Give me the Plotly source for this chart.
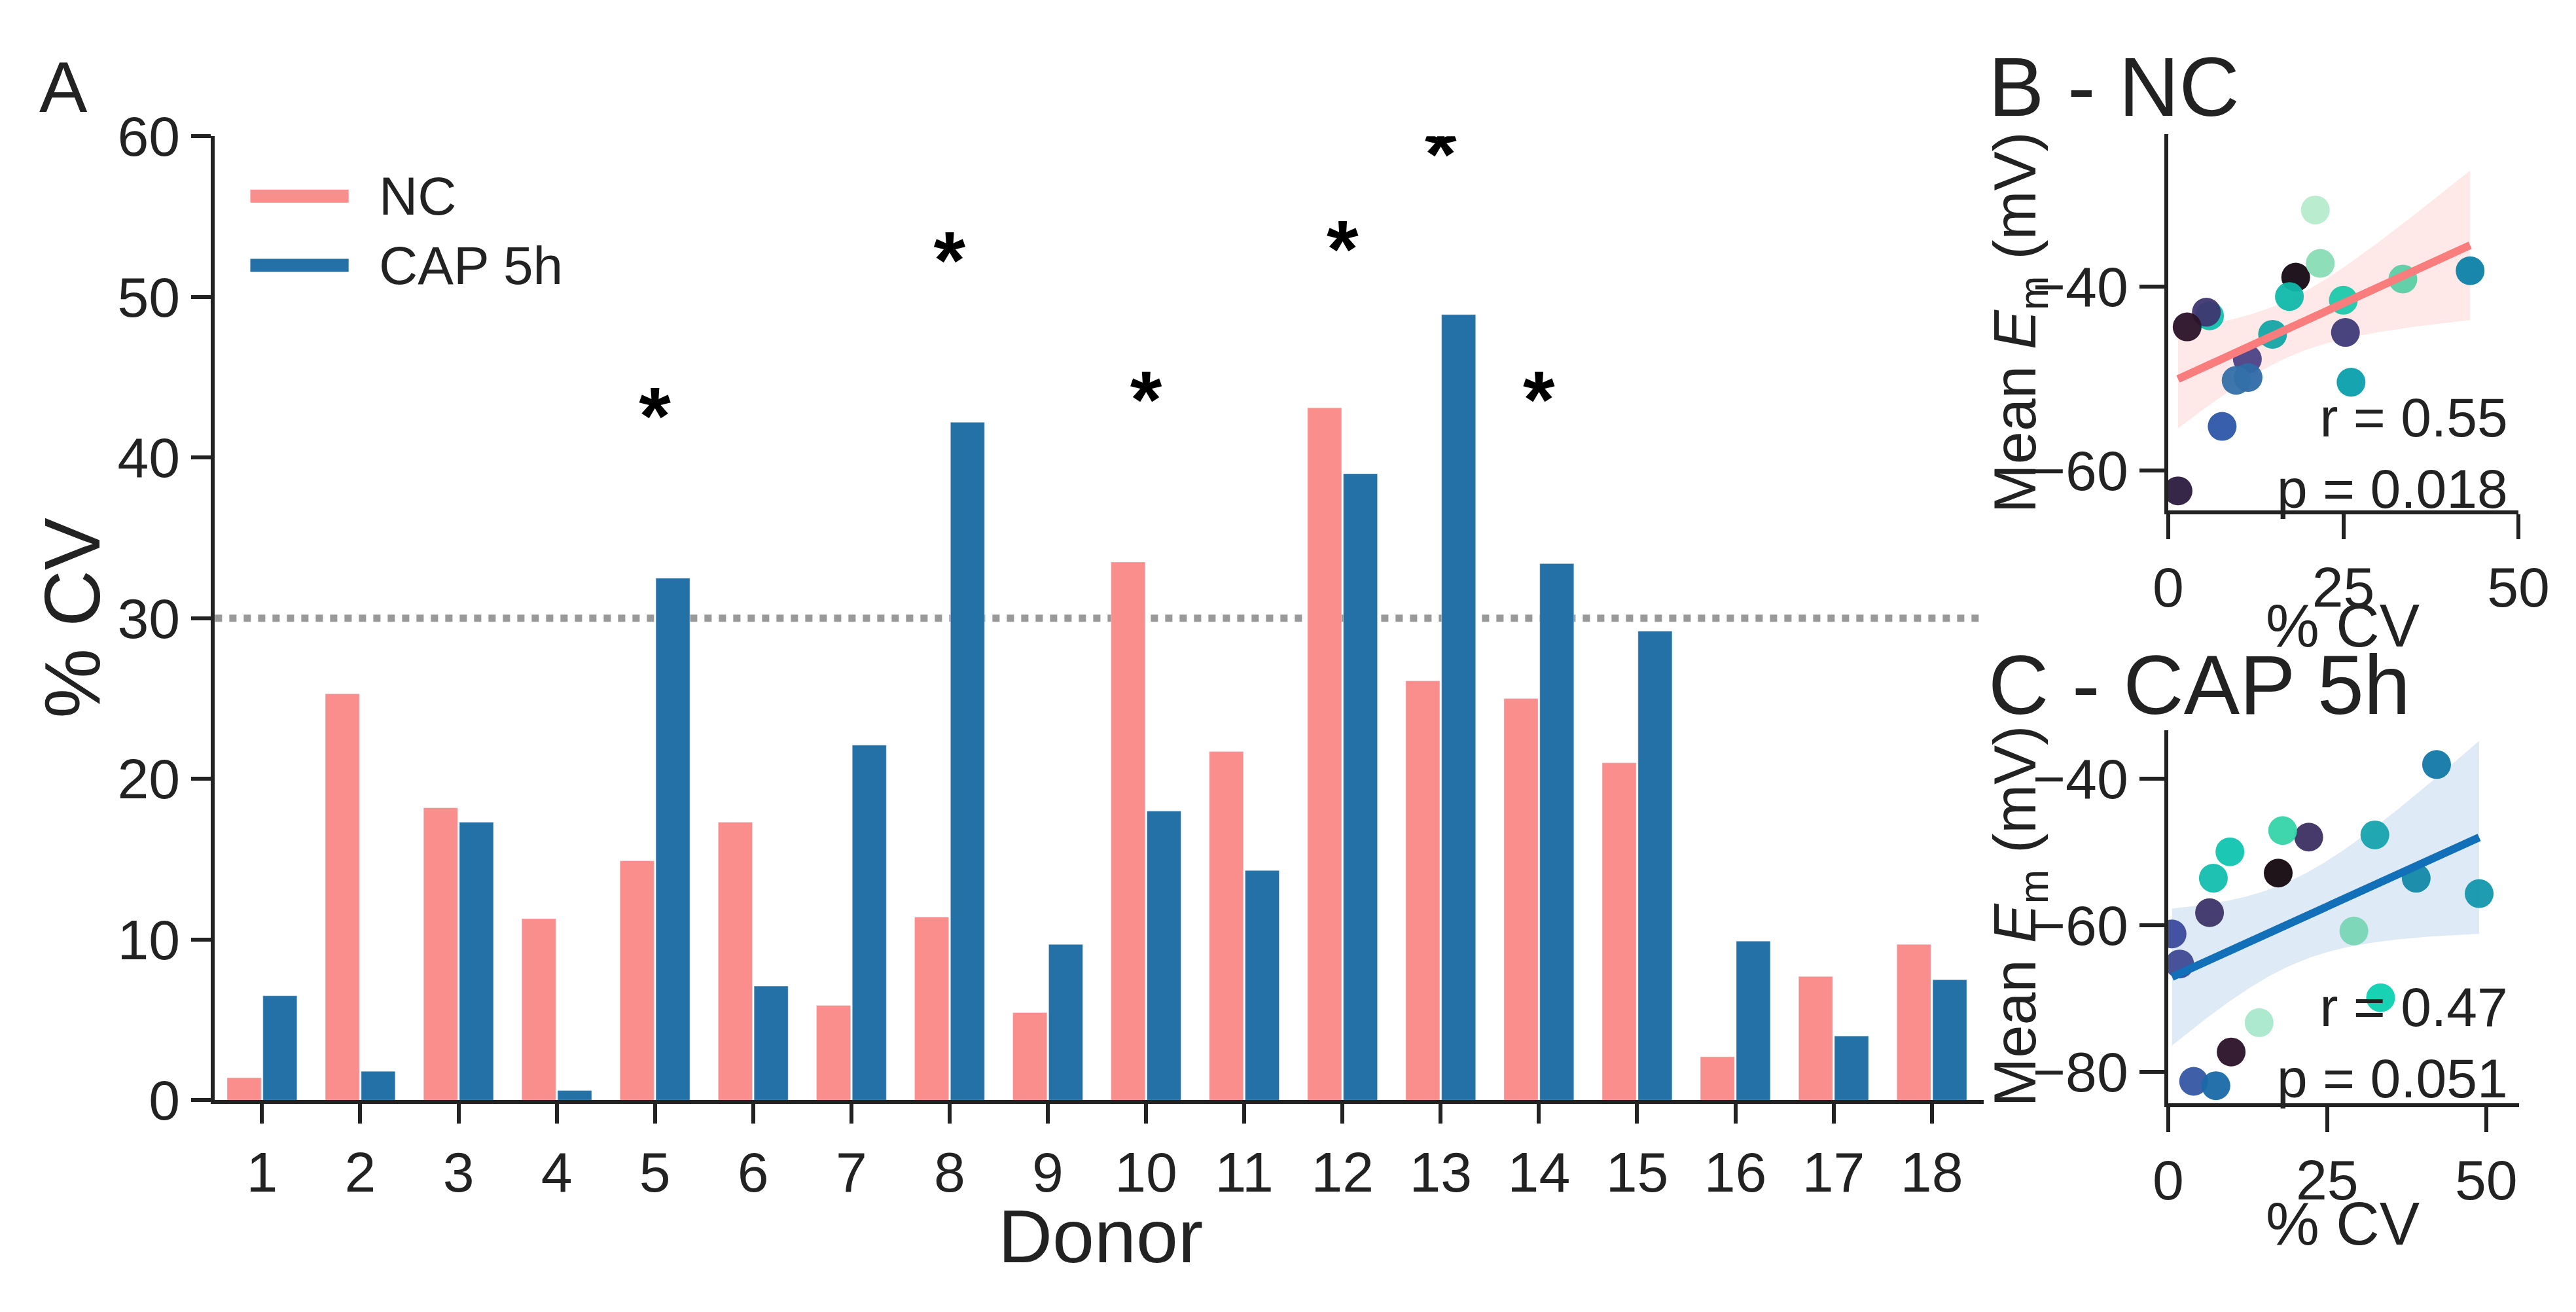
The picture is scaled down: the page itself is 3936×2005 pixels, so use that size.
import numpy as np
import plotly.graph_objects as go

donors = list(range(1, 19))
nc_cv = [1.4, 25.3, 18.2, 11.3, 14.9, 17.3, 5.9, 11.4, 5.45, 33.5, 21.7, 43.1, 26.1, 25.0, 21.0, 2.7, 7.7, 9.7]
cap_cv = [6.5, 1.8, 17.3, 0.6, 32.5, 7.1, 22.1, 42.2, 9.7, 18.0, 14.3, 39.0, 48.9, 33.4, 29.2, 9.9, 4.0, 7.5]
threshold = 30
sig_donors = [5, 8, 10, 12, 13, 14]
star_y = [42.1, 51.8, 43.1, 52.5, 58.4, 43.1]

nc_em = [-62.2, -45.0, -39.0, -47.9, -45.2, -41.1, -43.2, -49.9, -42.8, -39.2, -37.5, -38.3, -50.4, -41.5, -31.7, -44.4, -55.2, -50.2]
cap_em = [-58.3, -65.3, -52.9, -61.2, -47.7, -53.6, -48.0, -38.1, -50.0, -47.1, -73.3, -53.6, -55.7, -69.9, -60.8, -77.3, -81.3, -81.9]
nc_colors = ["#2b1a3d", "#3f3a78", "#150a13", "#4c4185", "#13a5a5", "#10b8aa", "#0fc2ae", "#2f6aa8",
             "#3e3670", "#5ccfa6", "#88ddb5", "#0d81a8", "#0aa0ac", "#1cc9ab", "#b6ebcd", "#2a1228", "#2d56a6", "#3470a8"]
cap_colors = ["#3d3468", "#3f4a92", "#14070f", "#3a4b9c", "#15a3ad", "#13bfae", "#3b2f62", "#1278a8",
              "#10c5b0", "#35d4a9", "#a9e8cb", "#1289a6", "#1497ad", "#0cd0b0", "#79d6b5", "#2a1228", "#3556a4", "#1969a8"]
nc_stats = "r = 0.55<br>p = 0.018"
cap_stats = "r = 0.47<br>p = 0.051"

PINK = "#f98e8d"
BLUE = "#2471a8"
FONT = "Liberation Sans"
AX = "#222222"

fig = go.Figure()
fig.add_trace(go.Bar(x=donors, y=nc_cv, marker_color=PINK, name="NC", showlegend=False))
fig.add_trace(go.Bar(x=donors, y=cap_cv, marker_color=BLUE, name="CAP 5h", showlegend=False))
fig.add_trace(go.Scatter(x=sig_donors, y=star_y, mode="text", text=["<b>*</b>"] * len(sig_donors),
                         textfont=dict(size=125, color="black", family=FONT), showlegend=False))


def fit_band(x, y):
    x = np.array(x); y = np.array(y)
    n = len(x)
    b, a = np.polyfit(x, y, 1)
    xs = np.linspace(x.min(), x.max(), 100)
    yh = a + b * xs
    res = y - (a + b * x)
    s = np.sqrt(np.sum(res ** 2) / (n - 2))
    se = s * np.sqrt(1 / n + (xs - x.mean()) ** 2 / np.sum((x - x.mean()) ** 2))
    t = 2.12
    return xs, yh, yh - t * se, yh + t * se


for xd, yd, cols, line_c, band_c, xa, ya in [
    (nc_cv, nc_em, nc_colors, "#fa7d7d", "rgba(250,125,125,0.18)", "x2", "y2"),
    (cap_cv, cap_em, cap_colors, "#1170b8", "rgba(60,130,195,0.17)", "x3", "y3"),
]:
    xs, yh, lo, hi = fit_band(xd, yd)
    fig.add_trace(go.Scatter(x=np.concatenate([xs, xs[::-1]]), y=np.concatenate([hi, lo[::-1]]),
                             fill="toself", fillcolor=band_c, line=dict(width=0), mode="lines",
                             xaxis=xa, yaxis=ya, showlegend=False, hoverinfo="skip"))
    fig.add_trace(go.Scatter(x=xd, y=yd, mode="markers", marker=dict(size=44, color=cols, opacity=0.95),
                             xaxis=xa, yaxis=ya, showlegend=False))
    fig.add_trace(go.Scatter(x=xs, y=yh, mode="lines", line=dict(color=line_c, width=12),
                             xaxis=xa, yaxis=ya, showlegend=False))

common = dict(showline=True, linecolor=AX, linewidth=6, ticks="outside", tickwidth=6, tickcolor=AX,
              showgrid=False, zeroline=False, tickfont=dict(family=FONT, size=86, color=AX))

fig.update_layout(
    width=3936, height=2005, margin=dict(l=0, r=0, t=0, b=0),
    plot_bgcolor="white", paper_bgcolor="white",
    barmode="group", bargap=0.27, bargroupgap=0.05,
    xaxis=dict(domain=[0.0767, 0.7762], range=[0.52, 18.53], tickvals=donors, ticklen=30, **common),
    yaxis=dict(domain=[0.1486, 0.9202], range=[0, 60], tickvals=[0, 10, 20, 30, 40, 50, 60], ticklen=30, **common),
    xaxis2=dict(domain=[0.8491, 0.9876], range=[0, 50], tickvals=[0, 25, 50], ticklen=38, anchor="y2", **common),
    yaxis2=dict(domain=[0.6209, 0.9217], range=[-64.3, -23.5], tickvals=[-60, -40], ticklen=38, anchor="x2",
                ticktext=["−60", "−40"], **common),
    xaxis3=dict(domain=[0.8491, 0.9879], range=[0, 55.2], tickvals=[0, 25, 50], ticklen=38, anchor="y3", **common),
    yaxis3=dict(domain=[0.1461, 0.4449], range=[-84.3, -33.4], tickvals=[-80, -60, -40], ticklen=38, anchor="x3",
                ticktext=["−80", "−60", "−40"], **common),
)

fig.add_shape(type="line", xref="x", yref="y", x0=0.52, x1=18.53, y0=threshold, y1=threshold,
              line=dict(color="#999999", width=11, dash="dot"), layer="below")

H = 2005.0
W = 3936.0


def ann(text, x, y, size, xanchor="center", yanchor="middle", angle=0, align="center"):
    fig.add_annotation(text=text, x=x / W, y=1 - y / H, xref="paper", yref="paper", showarrow=False,
                       xanchor=xanchor, yanchor=yanchor, textangle=angle, align=align,
                       font=dict(family=FONT, size=size, color="#222222"))


# Legend
for yy, col, lab in [(256, PINK, "NC"), (367, BLUE, "CAP 5h")]:
    fig.add_shape(type="line", xref="paper", yref="paper", x0=357 / W, x1=510 / W, y0=1 - yy / H, y1=1 - yy / H,
                  line=dict(color=col, width=20))
    ann(lab, 555, yy, 82, xanchor="left")

ann("A", 66, 80, 110)
ann("% CV", 80, 933, 120, angle=-90)
ann("Donor", 1680, 1925, 115)

ann("B - NC", 3060, 80, 128, xanchor="left")
ann("Mean <i>E</i><sub>m</sub> (mV)", 3110, 459, 90, angle=-90)
ann("% CV", 3614, 945, 92)
ann(nc_stats, 3873, 668, 84, xanchor="right", align="right")

ann("C - CAP 5h", 3060, 1040, 128, xanchor="left")
ann("Mean <i>E</i><sub>m</sub> (mV)", 3110, 1412, 90, angle=-90)
ann("% CV", 3614, 1905, 92)
ann(cap_stats, 3873, 1615, 84, xanchor="right", align="right")

fig.write_html("out.html")
